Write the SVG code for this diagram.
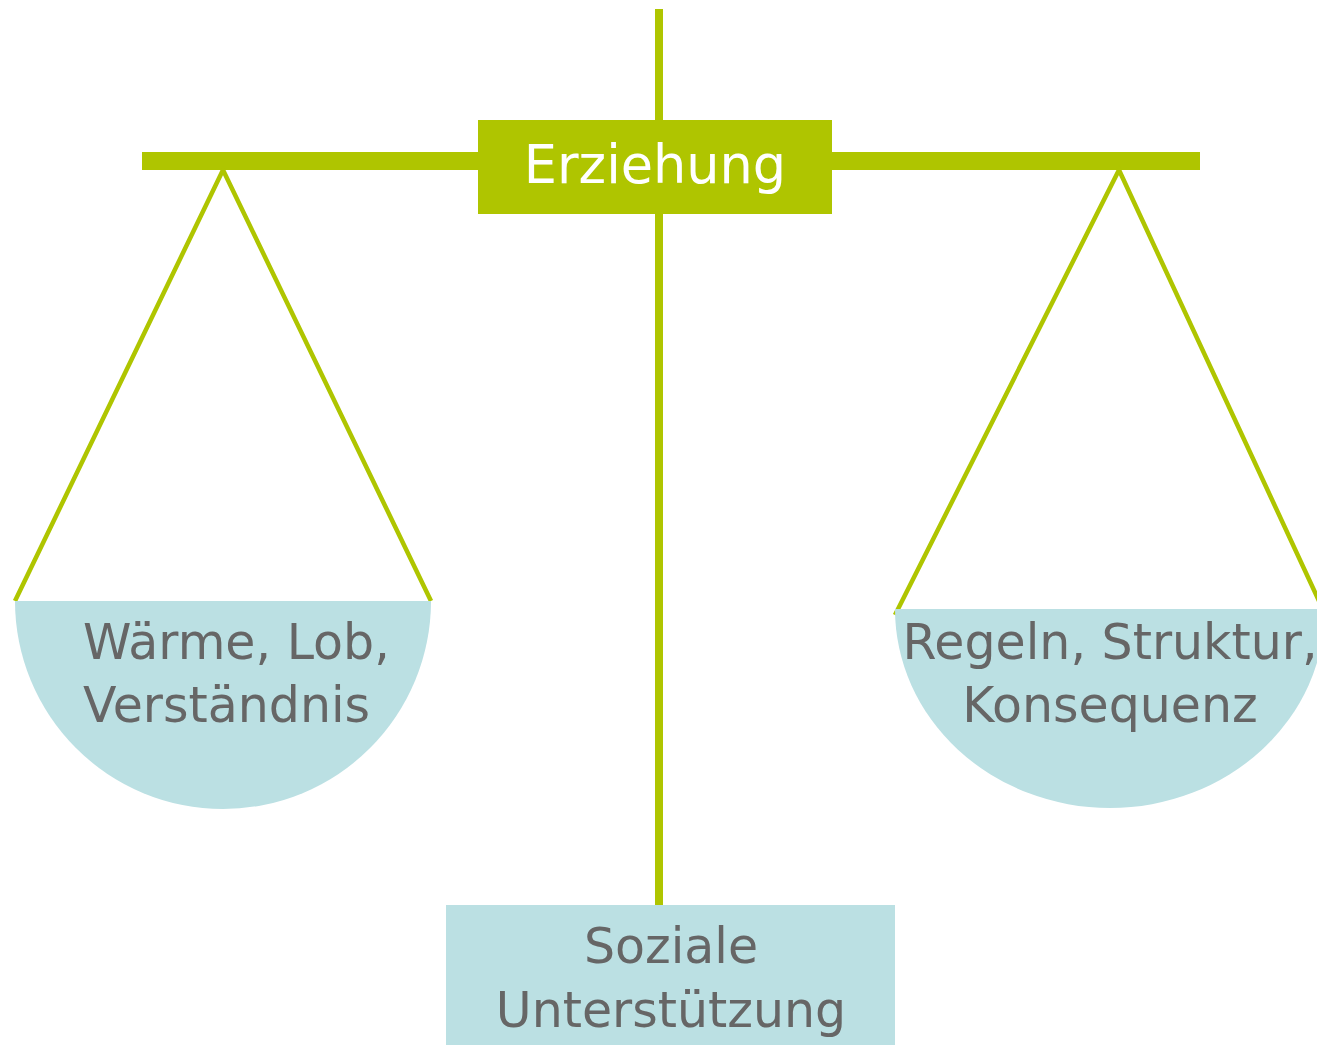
<svg xmlns="http://www.w3.org/2000/svg" width="1317" height="1045" viewBox="0 0 1317 1045">
<style>
.g{fill:#AFC500}
.str{stroke:#AFC500;stroke-width:4.5;fill:none}
.pan{fill:#BBE0E3}
.t{font-family:"DejaVu Sans","Liberation Sans",sans-serif;font-size:49px;fill:#666666}
.w{font-family:"DejaVu Sans","Liberation Sans",sans-serif;font-size:52.5px;fill:#FFFFFF}
</style>
<rect width="1317" height="1045" fill="#FFFFFF"/>
<g id="connectors">
<rect class="g" x="655" y="9" width="8" height="896"/>
<rect class="g" x="142" y="152" width="1058" height="18"/>
<polyline class="str" points="15,601 223,170 431,601"/>
<polyline class="str" points="895,615 1119,170 1326,616"/>
</g>
<g id="left-pan">
<path class="pan" d="M15,601 H431 A208,208 0 0 1 15,601 Z"/>
<text class="t" x="83" y="659">Wärme, Lob,</text>
<text class="t" x="83" y="722">Verständnis</text>
</g>
<g id="right-pan">
<path class="pan" d="M895,609 H1325 A215,199 0 0 1 895,609 Z"/>
<text class="t" x="1110" y="659" text-anchor="middle">Regeln, Struktur,</text>
<text class="t" x="1110" y="722" text-anchor="middle">Konsequenz</text>
</g>
<g id="erziehung">
<rect class="g" x="478" y="120" width="354" height="94"/>
<text class="w" x="655" y="183" text-anchor="middle">Erziehung</text>
</g>
<g id="soziale">
<rect class="pan" x="446" y="905" width="449" height="145"/>
<text class="t" x="671" y="963" text-anchor="middle">Soziale</text>
<text class="t" x="671" y="1027" text-anchor="middle">Unterstützung</text>
</g>
</svg>
